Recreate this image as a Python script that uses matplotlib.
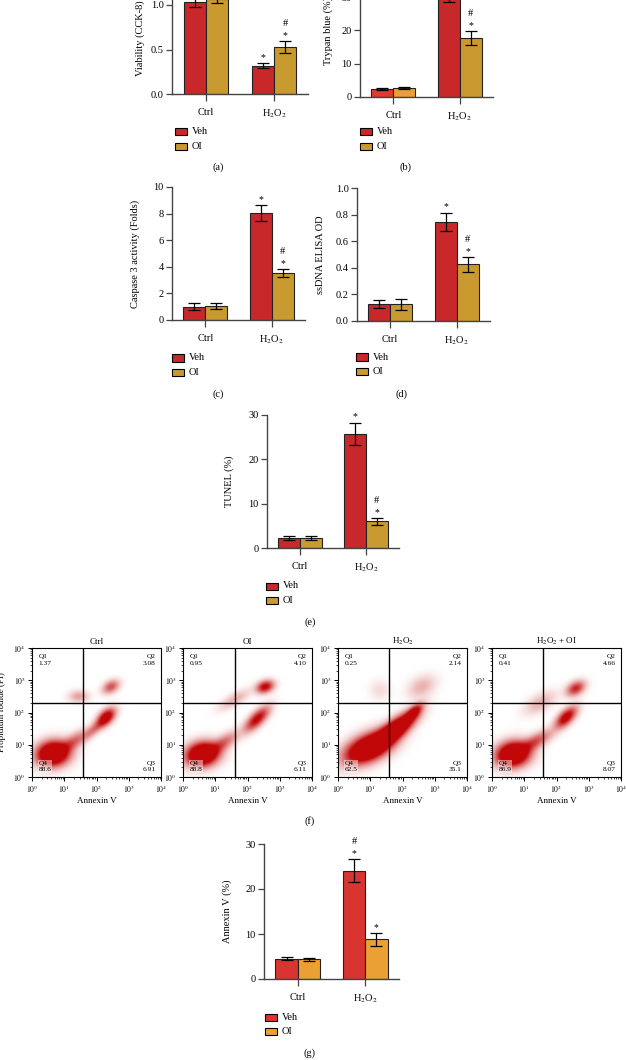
import numpy as np
import matplotlib
matplotlib.use('Agg')
import matplotlib.pyplot as plt
from matplotlib.patches import Rectangle
from matplotlib.ticker import FixedLocator

plt.rcParams['font.family'] = 'Liberation Serif'
plt.rcParams['mathtext.fontset'] = 'stix'

# ---- data ----
groups = ['Ctrl', 'H$_2$O$_2$']
series = ['Veh', 'OI']

viab_veh, viab_veh_err = [1.03, 0.32], [0.05, 0.03]
viab_oi, viab_oi_err = [1.07, 0.53], [0.05, 0.065]

tryp_veh, tryp_veh_err = [2.5, 30.0], [0.3, 1.6]
tryp_oi, tryp_oi_err = [2.7, 17.6], [0.3, 2.1]

casp_veh, casp_veh_err = [1.0, 8.05], [0.25, 0.6]
casp_oi, casp_oi_err = [1.05, 3.55], [0.22, 0.3]

ssdna_veh, ssdna_veh_err = [0.125, 0.745], [0.03, 0.07]
ssdna_oi, ssdna_oi_err = [0.125, 0.425], [0.04, 0.058]

tunel_veh, tunel_veh_err = [2.3, 25.8], [0.4, 2.5]
tunel_oi, tunel_oi_err = [2.2, 6.0], [0.4, 0.8]

annex_veh, annex_veh_err = [4.5, 24.1], [0.35, 2.5]
annex_oi, annex_oi_err = [4.4, 8.8], [0.35, 1.4]

# significance marks per bar (Ctrl, H2O2)
marks_veh = {'a': ['', '*'], 'b': ['', '*'], 'c': ['', '*'], 'd': ['', '*'], 'e': ['', '*'], 'g': ['', '*#']}
marks_oi = {'a': ['', '*#'], 'b': ['', '*#'], 'c': ['', '*#'], 'd': ['', '*#'], 'e': ['', '*#'], 'g': ['', '*']}

# flow cytometry panels
flow_titles = ['Ctrl', 'OI', 'H$_2$O$_2$', 'H$_2$O$_2$ + OI']
flow_q1 = [1.37, 0.95, 0.25, 0.41]
flow_q2 = [3.08, 4.10, 2.14, 4.66]
flow_q3 = [6.91, 6.11, 35.1, 8.07]
flow_q4 = [88.6, 88.8, 62.5, 86.9]
gate_x = [1.57, 1.62, 1.57, 1.58]   # log10 Annexin V
gate_y = [2.30, 2.30, 2.30, 2.30]   # log10 PI
# event clouds: (log x, log y, spread x, spread y, angle, density)
clouds_ctrl = [(0.65, 0.72, 0.32, 0.24, 10, 1.0), (1.30, 1.10, 0.35, 0.14, 35, 0.25),
               (1.95, 1.50, 0.30, 0.10, 42, 0.2), (2.30, 1.85, 0.22, 0.13, 45, 0.6),
               (2.45, 2.80, 0.18, 0.12, 30, 0.3), (1.45, 2.50, 0.20, 0.12, 0, 0.15)]
clouds_oi = [(0.60, 0.70, 0.32, 0.23, 12, 1.0), (1.25, 1.05, 0.35, 0.14, 35, 0.25),
             (2.30, 1.80, 0.32, 0.13, 45, 0.5), (2.55, 2.80, 0.18, 0.12, 20, 0.5),
             (1.60, 2.40, 0.35, 0.12, 30, 0.12)]
clouds_h2o2 = [(0.95, 0.90, 0.50, 0.25, 25, 1.0), (1.75, 1.45, 0.50, 0.17, 38, 1.0),
               (2.35, 2.00, 0.22, 0.10, 45, 0.5), (2.60, 2.80, 0.30, 0.20, 30, 0.12),
               (1.30, 2.70, 0.20, 0.20, 0, 0.05)]
clouds_h2o2_oi = [(0.65, 0.70, 0.33, 0.24, 12, 1.0), (1.35, 1.10, 0.38, 0.14, 30, 0.3),
                  (2.30, 1.85, 0.27, 0.13, 45, 0.55), (2.60, 2.75, 0.20, 0.13, 30, 0.4),
                  (1.50, 2.30, 0.35, 0.17, 30, 0.12)]
flow_clouds = [clouds_ctrl, clouds_oi, clouds_h2o2, clouds_h2o2_oi]

RED = '#c8282a'
GOLD = '#c99a30'
ORANGE = '#eba035'

W, H = 626, 1060
fig = plt.figure(figsize=(W / 100, H / 100), dpi=100)


def add_ax(l, t, r, b):
    return fig.add_axes([l / W, 1 - b / H, (r - l) / W, (b - t) / H])


def fxy(x, y):
    return x / W, 1 - y / H


def bar_panel(ax, veh, veh_err, oi, oi_err, key, ylim, yticks, ylabels, cveh, coi):
    x = np.arange(len(groups))
    w = 0.33
    ax.bar(x - w / 2, veh, w, color=cveh, edgecolor='#222222', linewidth=0.8, zorder=2)
    ax.bar(x + w / 2, oi, w, color=coi, edgecolor='#222222', linewidth=0.8, zorder=2)
    for xs, m, e in [(x - w / 2, veh, veh_err), (x + w / 2, oi, oi_err)]:
        ax.errorbar(xs, m, yerr=e, fmt='none', ecolor='k', elinewidth=0.9,
                    capsize=4.5, capthick=0.9, zorder=3, clip_on=False)
    for xs, m, e, mk in [(x - w / 2, veh, veh_err, marks_veh[key]),
                         (x + w / 2, oi, oi_err, marks_oi[key])]:
        for xi, mi, ei, s in zip(xs, m, e, mk):
            if '*' in s:
                ax.annotate('*', (xi, mi + ei), xytext=(0, 4), textcoords='offset points',
                            ha='center', va='center', fontsize=7, annotation_clip=False)
            if '#' in s:
                ax.annotate('#', (xi, mi + ei), xytext=(0, 12.5), textcoords='offset points',
                            ha='center', va='center', fontsize=7.5, annotation_clip=False)
    ax.set_xlim(-0.5, 1.5)
    ax.set_ylim(*ylim)
    ax.set_yticks(yticks)
    ax.set_yticklabels(ylabels)
    ax.set_xticks(x)
    ax.set_xticklabels(groups)
    for s in ['top', 'right']:
        ax.spines[s].set_visible(False)
    for s in ['left', 'bottom']:
        ax.spines[s].set_linewidth(1.0)
        ax.spines[s].set_color('#444444')
    ax.tick_params(axis='y', length=4, width=0.9, pad=2, labelsize=7.5, color='#444444')
    ax.tick_params(axis='x', length=5, width=0.9, pad=5, labelsize=7.5, color='#444444')


def legend_px(l, b, cveh, coi):
    for i, (lab, c) in enumerate(zip(series, [cveh, coi])):
        yc = b + 38 + 14.5 * i
        fig.patches.append(Rectangle(fxy(l, yc + 3.5), 12 / W, 7 / H, transform=fig.transFigure,
                                     facecolor=c, edgecolor='k', linewidth=0.8))
        fig.text(*fxy(l + 17, yc), lab, va='center', ha='left', fontsize=7.5)


# (a) viability
ax = add_ax(172, 94 - 133.5, 308, 94)
bar_panel(ax, viab_veh, viab_veh_err, viab_oi, viab_oi_err, 'a', (0, 1.5),
          [0, 0.5, 1.0, 1.5], ['0.0', '0.5', '1.0', '1.5'], RED, GOLD)
fig.text(*fxy(140, 76), 'Viability (CCK-8)', rotation=90, ha='center', va='bottom', fontsize=7.5)
legend_px(175, 94, RED, GOLD)
fig.text(*fxy(218, 167), '(a)', ha='center', va='center', fontsize=7.5)

# (b) trypan blue
ax = add_ax(360, 97 - 133.3, 493, 97)
bar_panel(ax, tryp_veh, tryp_veh_err, tryp_oi, tryp_oi_err, 'b', (0, 40),
          [0, 10, 20, 30, 40], ['0', '10', '20', '30', '40'], ['#e03a30', RED], [ORANGE, GOLD])
fig.text(*fxy(328, 65), 'Trypan blue (%)', rotation=90, ha='center', va='bottom', fontsize=7.5)
legend_px(360, 94, RED, GOLD)
fig.text(*fxy(405, 167), '(b)', ha='center', va='center', fontsize=7.5)

# (c) caspase 3
ax = add_ax(172, 187, 305, 320)
bar_panel(ax, casp_veh, casp_veh_err, casp_oi, casp_oi_err, 'c', (0, 10),
          [0, 2, 4, 6, 8, 10], ['0', '2', '4', '6', '8', '10'], RED, GOLD)
ax.set_ylabel('Caspase 3 activity (Folds)', fontsize=7.5)
ax.yaxis.set_label_coords(-0.24, 0.5)
legend_px(172, 320, RED, GOLD)
fig.text(*fxy(218, 394), '(c)', ha='center', va='center', fontsize=7.5)

# (d) ssDNA
ax = add_ax(357, 188, 490, 321)
bar_panel(ax, ssdna_veh, ssdna_veh_err, ssdna_oi, ssdna_oi_err, 'd', (0, 1.0),
          [0, 0.2, 0.4, 0.6, 0.8, 1.0], ['0.0', '0.2', '0.4', '0.6', '0.8', '1.0'], RED, GOLD)
ax.set_ylabel('ssDNA ELISA OD', fontsize=7.5)
ax.yaxis.set_label_coords(-0.24, 0.5)
legend_px(356, 319, RED, GOLD)
fig.text(*fxy(402, 394), '(d)', ha='center', va='center', fontsize=7.5)

# (e) TUNEL
ax = add_ax(267, 415, 399, 548)
bar_panel(ax, tunel_veh, tunel_veh_err, tunel_oi, tunel_oi_err, 'e', (0, 30),
          [0, 10, 20, 30], ['0', '10', '20', '30'], RED, GOLD)
ax.set_ylabel('TUNEL (%)', fontsize=7.5)
ax.yaxis.set_label_coords(-0.25, 0.5)
legend_px(266, 548, RED, GOLD)
fig.text(*fxy(310, 622), '(e)', ha='center', va='center', fontsize=7.5)

# (f) flow cytometry
gx = np.linspace(0, 4, 320)
GX, GY = np.meshgrid(gx, gx)
flow_lefts = [32, 183, 338, 492]
for i in range(4):
    l = flow_lefts[i]
    ax = add_ax(l, 648, l + 129, 777)
    dens = np.zeros_like(GX)
    for cx, cy, sx, sy, ang, w in flow_clouds[i]:
        t = np.deg2rad(ang)
        dx, dy = GX - cx, GY - cy
        u = dx * np.cos(t) + dy * np.sin(t)
        v = -dx * np.sin(t) + dy * np.cos(t)
        dens += w * np.exp(-0.5 * ((u / sx) ** 2 + (v / sy) ** 2))
    rgba = np.zeros(GX.shape + (4,))
    rgba[..., 0], rgba[..., 1], rgba[..., 2] = 0.76, 0.03, 0.03
    rgba[..., 3] = np.clip(dens * 2.2, 0, 1) ** 0.85
    ax.imshow(rgba, extent=(0, 4, 0, 4), origin='lower', aspect='auto', zorder=1,
              interpolation='bilinear')
    ax.axvline(gate_x[i], color='k', lw=1.0, zorder=2)
    ax.axhline(gate_y[i], color='k', lw=1.0, zorder=2)
    ax.set_xlim(0, 4)
    ax.set_ylim(0, 4)
    ticks = [0, 1, 2, 3, 4]
    minors = [n + np.log10(k) for n in range(4) for k in range(2, 10)]
    ax.set_xticks(ticks)
    ax.set_yticks(ticks)
    ax.set_xticklabels([f'$10^{n}$' for n in ticks])
    ax.set_yticklabels([f'$10^{n}$' for n in ticks])
    ax.xaxis.set_minor_locator(FixedLocator(minors))
    ax.yaxis.set_minor_locator(FixedLocator(minors))
    ax.tick_params(which='major', length=3, width=0.7, labelsize=5.5, pad=1.5)
    ax.tick_params(which='minor', length=1.5, width=0.5)
    for s in ax.spines.values():
        s.set_linewidth(0.8)
    ax.set_title(flow_titles[i], fontsize=6.5, pad=3)
    ax.set_xlabel('Annexin V', fontsize=6.5, labelpad=2)
    if i == 0:
        ax.set_ylabel('Propidium Iodide (PI)', fontsize=6.5)
        ax.yaxis.set_label_coords(-0.2, 0.5)
    fmt = lambda v: f'{v:.2f}' if v < 10 else f'{v:.1f}'
    ax.text(0.05, 0.95, f'Q1\n{fmt(flow_q1[i])}', transform=ax.transAxes, ha='left', va='top',
            fontsize=5.3, linespacing=1.3, zorder=3)
    ax.text(0.96, 0.95, f'Q2\n{fmt(flow_q2[i])}', transform=ax.transAxes, ha='right', va='top',
            fontsize=5.3, linespacing=1.3, zorder=3)
    ax.text(0.96, 0.04, f'Q3\n{fmt(flow_q3[i])}', transform=ax.transAxes, ha='right', va='bottom',
            fontsize=5.3, linespacing=1.3, zorder=3)
    ax.text(0.05, 0.04, f'Q4\n{fmt(flow_q4[i])}', transform=ax.transAxes, ha='left', va='bottom',
            fontsize=5.3, linespacing=1.3, zorder=3,
            bbox=dict(facecolor='white', alpha=0.45, edgecolor='none', pad=0.5))
fig.text(*fxy(310, 821), '(f)', ha='center', va='center', fontsize=7.5)

# (g) Annexin V
ax = add_ax(264, 844, 399, 979)
bar_panel(ax, annex_veh, annex_veh_err, annex_oi, annex_oi_err, 'g', (0, 30),
          [0, 10, 20, 30], ['0', '10', '20', '30'], '#d93530', ORANGE)
ax.set_ylabel('Annexin V (%)', fontsize=7.5)
ax.yaxis.set_label_coords(-0.24, 0.5)
legend_px(265, 979, '#d93530', ORANGE)
fig.text(*fxy(310, 1053), '(g)', ha='center', va='center', fontsize=7.5)

fig.savefig('out.png', dpi=100)
